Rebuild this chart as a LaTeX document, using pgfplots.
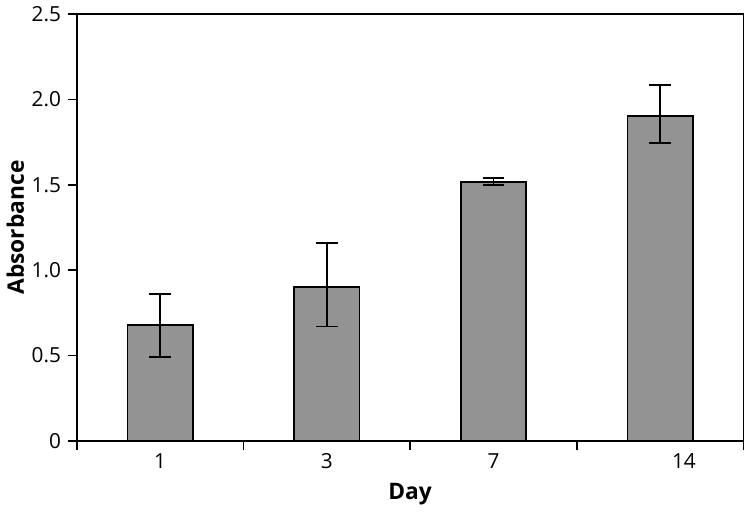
\documentclass[border=0pt]{standalone}
\usepackage{pgfplots}
\pgfplotsset{compat=1.18}
\usepackage{fontspec}
\setmainfont{Open Sans}
\definecolor{bargray}{HTML}{939393}
\begin{document}
\begin{tikzpicture}
\begin{axis}[
  width=336bp, height=215bp, scale only axis,
  xmin=-0.5, xmax=3.5, ymin=0, ymax=2.5,
  ytick={0,0.5,1,1.5,2,2.5},
  yticklabels={0,0.5,1.0,1.5,2.0,2.5},
  xtick={-0.5,0.5,1.5,2.5,3.5},
  xticklabels={},
  extra x ticks={0,1,2,3},
  extra x tick labels={1,3,7,\hspace*{24bp}14},
  extra x tick style={major tick length=0pt, tick style={draw=none}, xticklabel style={yshift=-3bp}},
  /pgf/number format/assume math mode=true,
  tick label style={font=\fontsize{10.5}{12}\selectfont},
  tick style={black, line width=0.8bp},
  major tick length=4.5bp,
  tick align=outside,
  ytick pos=left, xtick pos=bottom,
  axis line style={black, line width=0.8bp},
  xlabel={\textbf{Day}}, ylabel={\textbf{Absorbance}},
  label style={font=\fontsize{11.5}{13}\selectfont},
  xlabel style={yshift=4bp},
  ylabel style={yshift=-3bp},
  ybar, bar width=33bp,
]
\addplot[fill=bargray, draw=black, line width=0.8bp,
  error bars/.cd, y dir=both, y explicit,
  error bar style={line width=0.8bp, black},
  error mark options={rotate=90, mark size=5.5bp, line width=0.8bp}]
  coordinates {
  (0,0.68) +- (0,0.18) -= (0,0.19)
  (1,0.90) +- (0,0.26) -= (0,0.23)
  (2,1.515) +- (0,0.025) -= (0,0.015)
  (3,1.905) +- (0,0.18) -= (0,0.16)
};
\end{axis}
\end{tikzpicture}
\end{document}
